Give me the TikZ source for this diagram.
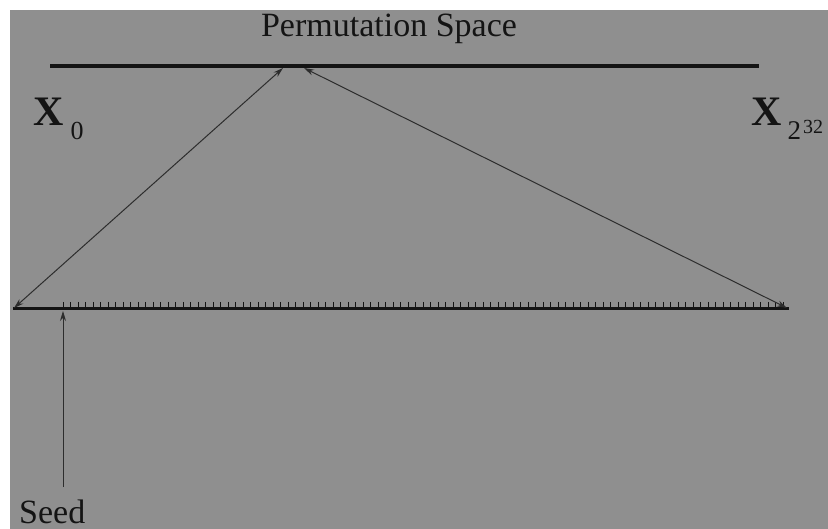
\documentclass[tikz,border=0pt]{standalone}
\usepackage{fontspec}
\setmainfont{Liberation Serif}
\usetikzlibrary{arrows.meta}
\definecolor{bg}{RGB}{143,143,143}
\definecolor{ink}{RGB}{20,20,20}
\definecolor{thin}{RGB}{45,45,45}
\begin{document}
\begin{tikzpicture}[x=1pt,y=-1pt,
  lbl/.style={inner sep=0pt,text=ink,font=\fontsize{34}{40}\selectfont},
  xlbl/.style={inner sep=0pt,text=ink,font=\fontsize{42}{48}\selectfont\bfseries},
  axis/.style={line width=3.5pt,draw=ink},
  conn/.style={line width=1pt,draw=thin,{Stealth[length=10pt,width=6pt]}-{Stealth[length=10pt,width=6pt]}},
  seedarrow/.style={line width=1pt,draw=thin,-{Stealth[length=10pt,width=6pt]}},
  tick/.style={line width=1pt,draw=ink}]
\useasboundingbox (0,0) rectangle (828,529);
\fill[white] (0,0) rectangle (828,529);
\fill[bg] (10,10) rectangle (828,529);
% permutation space line
\coordinate (ps1) at (50,66);
\coordinate (ps2) at (759,66);
\draw[axis] (ps1) -- (ps2);
\node[lbl,anchor=base] (title) at (389,37) {Permutation Space};
% X labels
\node[xlbl,anchor=base west] (x0) at (33,126)
  {X\hspace{7pt}\raisebox{-14pt}{\mdseries\fontsize{26}{26}\selectfont 0}};
\node[xlbl,anchor=base west] (xn) at (751,126)
  {X\hspace{6pt}\raisebox{-14pt}{\mdseries\fontsize{27}{27}\selectfont 2}\hspace{2pt}\raisebox{-8pt}{\mdseries\fontsize{20}{20}\selectfont 32}};
% bottom sequence line
\coordinate (sq1) at (13,309);
\coordinate (sq2) at (789,309);
\foreach \i in {0,...,96} {
  \draw[tick] (63+7.5*\i,302) -- (63+7.5*\i,309);
}
\draw[axis,line width=3pt] (sq1) -- (sq2);
% arrows to permutation space
\coordinate (apexL) at (283,68);
\coordinate (apexR) at (304,68);
\coordinate (endL) at (14,308);
\coordinate (endR) at (787,308);
\draw[conn] (endL) -- (apexL);
\draw[conn] (endR) -- (apexR);
% seed
\coordinate (seedtip) at (63,311);
\node[lbl,anchor=base west,text depth=0pt] (seed) at (19,523) {Seed};
\coordinate (seedtail) at (63,487);
\draw[seedarrow] (seedtail) -- (seedtip);
\end{tikzpicture}
\end{document}
